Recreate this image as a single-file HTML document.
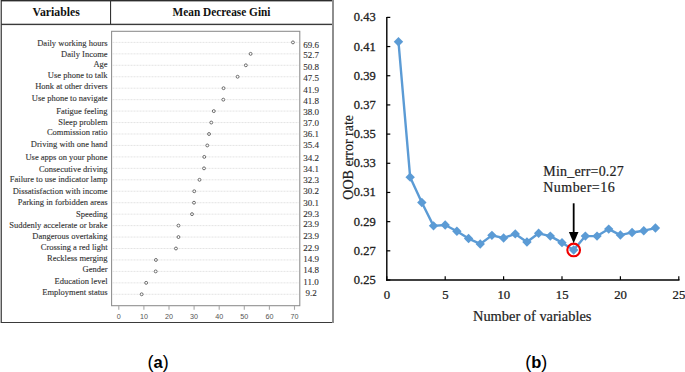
<!DOCTYPE html>
<html><head><meta charset="utf-8"><style>
html,body{margin:0;padding:0;background:#fff;width:685px;height:372px;overflow:hidden;font-family:"Liberation Serif",serif;}
svg{display:block;}
</style></head><body>
<svg width="685" height="372" viewBox="0 0 685 372">
<rect x="0" y="0" width="1" height="323" fill="#b4b4b4"/>
<rect x="1" y="0" width="1" height="323" fill="#555"/>
<rect x="1" y="0" width="332" height="1" fill="#2c2c2c"/>
<rect x="1" y="1" width="332" height="0.4" fill="#2c2c2c"/>
<rect x="1" y="23.7" width="332" height="1.4" fill="#3a3a3a"/>
<rect x="110" y="0" width="1.1" height="24" fill="#333"/>
<rect x="1" y="322" width="332" height="1" fill="#3a3a3a"/>
<rect x="332" y="0" width="2" height="323" fill="#8e8e8e"/>
<text transform="translate(56.2 15.8) scale(0.95 1)" text-anchor="middle" font-family="Liberation Serif" font-weight="bold" font-size="12.4" fill="#111">Variables</text>
<text transform="translate(221.5 15.8) scale(0.915 1)" text-anchor="middle" font-family="Liberation Serif" font-weight="bold" font-size="12.4" fill="#111">Mean Decrease Gini</text>
<rect x="111.6" y="31.3" width="188.2" height="274.4" fill="none" stroke="#8c8c8c" stroke-width="1.05"/>
<line x1="118.80" y1="306" x2="118.80" y2="309.8" stroke="#a8a8a8" stroke-width="1.1"/>
<text transform="translate(118.80 318.8) scale(0.9 1)" text-anchor="middle" font-family="Liberation Sans" font-size="8" fill="#555">0</text>
<line x1="143.90" y1="306" x2="143.90" y2="309.8" stroke="#a8a8a8" stroke-width="1.1"/>
<text transform="translate(143.90 318.8) scale(0.9 1)" text-anchor="middle" font-family="Liberation Sans" font-size="8" fill="#555">10</text>
<line x1="169.00" y1="306" x2="169.00" y2="309.8" stroke="#a8a8a8" stroke-width="1.1"/>
<text transform="translate(169.00 318.8) scale(0.9 1)" text-anchor="middle" font-family="Liberation Sans" font-size="8" fill="#555">20</text>
<line x1="194.10" y1="306" x2="194.10" y2="309.8" stroke="#a8a8a8" stroke-width="1.1"/>
<text transform="translate(194.10 318.8) scale(0.9 1)" text-anchor="middle" font-family="Liberation Sans" font-size="8" fill="#555">30</text>
<line x1="219.20" y1="306" x2="219.20" y2="309.8" stroke="#a8a8a8" stroke-width="1.1"/>
<text transform="translate(219.20 318.8) scale(0.9 1)" text-anchor="middle" font-family="Liberation Sans" font-size="8" fill="#555">40</text>
<line x1="244.30" y1="306" x2="244.30" y2="309.8" stroke="#a8a8a8" stroke-width="1.1"/>
<text transform="translate(244.30 318.8) scale(0.9 1)" text-anchor="middle" font-family="Liberation Sans" font-size="8" fill="#555">50</text>
<line x1="269.40" y1="306" x2="269.40" y2="309.8" stroke="#a8a8a8" stroke-width="1.1"/>
<text transform="translate(269.40 318.8) scale(0.9 1)" text-anchor="middle" font-family="Liberation Sans" font-size="8" fill="#555">60</text>
<line x1="294.50" y1="306" x2="294.50" y2="309.8" stroke="#a8a8a8" stroke-width="1.1"/>
<text transform="translate(294.50 318.8) scale(0.9 1)" text-anchor="middle" font-family="Liberation Sans" font-size="8" fill="#555">70</text>
<line x1="112.5" y1="42.40" x2="299" y2="42.40" stroke="#d8d8d8" stroke-width="0.7" stroke-dasharray="2 1"/>
<circle cx="292.95" cy="42.40" r="1.45" fill="#fff" stroke="#555" stroke-width="0.85"/>
<text x="107.6" y="45.75" text-anchor="end" font-family="Liberation Serif" font-size="8.5" fill="#333" stroke="#333" stroke-width="0.12">Daily working hours</text>
<text x="311" y="47.60" text-anchor="middle" font-family="Liberation Serif" font-size="9" fill="#333" stroke="#333" stroke-width="0.12">69.6</text>
<line x1="112.5" y1="53.85" x2="299" y2="53.85" stroke="#d8d8d8" stroke-width="0.7" stroke-dasharray="2 1"/>
<circle cx="250.61" cy="53.85" r="1.45" fill="#fff" stroke="#555" stroke-width="0.85"/>
<text x="107.6" y="56.50" text-anchor="end" font-family="Liberation Serif" font-size="8.5" fill="#333" stroke="#333" stroke-width="0.12">Daily Income</text>
<text x="311" y="58.40" text-anchor="middle" font-family="Liberation Serif" font-size="9" fill="#333" stroke="#333" stroke-width="0.12">52.7</text>
<line x1="112.5" y1="65.30" x2="299" y2="65.30" stroke="#d8d8d8" stroke-width="0.7" stroke-dasharray="2 1"/>
<circle cx="245.85" cy="65.30" r="1.45" fill="#fff" stroke="#555" stroke-width="0.85"/>
<text x="107.6" y="66.70" text-anchor="end" font-family="Liberation Serif" font-size="8.5" fill="#333" stroke="#333" stroke-width="0.12">Age</text>
<text x="311" y="69.70" text-anchor="middle" font-family="Liberation Serif" font-size="9" fill="#333" stroke="#333" stroke-width="0.12">50.8</text>
<line x1="112.5" y1="76.75" x2="299" y2="76.75" stroke="#d8d8d8" stroke-width="0.7" stroke-dasharray="2 1"/>
<circle cx="237.59" cy="76.75" r="1.45" fill="#fff" stroke="#555" stroke-width="0.85"/>
<text x="107.6" y="77.50" text-anchor="end" font-family="Liberation Serif" font-size="8.5" fill="#333" stroke="#333" stroke-width="0.12">Use phone to talk</text>
<text x="311" y="81.00" text-anchor="middle" font-family="Liberation Serif" font-size="9" fill="#333" stroke="#333" stroke-width="0.12">47.5</text>
<line x1="112.5" y1="88.20" x2="299" y2="88.20" stroke="#d8d8d8" stroke-width="0.7" stroke-dasharray="2 1"/>
<circle cx="223.56" cy="88.20" r="1.45" fill="#fff" stroke="#555" stroke-width="0.85"/>
<text x="107.6" y="89.30" text-anchor="end" font-family="Liberation Serif" font-size="8.5" fill="#333" stroke="#333" stroke-width="0.12">Honk at other drivers</text>
<text x="311" y="92.50" text-anchor="middle" font-family="Liberation Serif" font-size="9" fill="#333" stroke="#333" stroke-width="0.12">41.9</text>
<line x1="112.5" y1="99.65" x2="299" y2="99.65" stroke="#d8d8d8" stroke-width="0.7" stroke-dasharray="2 1"/>
<circle cx="223.31" cy="99.65" r="1.45" fill="#fff" stroke="#555" stroke-width="0.85"/>
<text x="107.6" y="101.00" text-anchor="end" font-family="Liberation Serif" font-size="8.5" fill="#333" stroke="#333" stroke-width="0.12">Use phone to navigate</text>
<text x="311" y="103.50" text-anchor="middle" font-family="Liberation Serif" font-size="9" fill="#333" stroke="#333" stroke-width="0.12">41.8</text>
<line x1="112.5" y1="111.10" x2="299" y2="111.10" stroke="#d8d8d8" stroke-width="0.7" stroke-dasharray="2 1"/>
<circle cx="213.79" cy="111.10" r="1.45" fill="#fff" stroke="#555" stroke-width="0.85"/>
<text x="107.6" y="113.80" text-anchor="end" font-family="Liberation Serif" font-size="8.5" fill="#333" stroke="#333" stroke-width="0.12">Fatigue feeling</text>
<text x="311" y="115.20" text-anchor="middle" font-family="Liberation Serif" font-size="9" fill="#333" stroke="#333" stroke-width="0.12">38.0</text>
<line x1="112.5" y1="122.55" x2="299" y2="122.55" stroke="#d8d8d8" stroke-width="0.7" stroke-dasharray="2 1"/>
<circle cx="211.28" cy="122.55" r="1.45" fill="#fff" stroke="#555" stroke-width="0.85"/>
<text x="107.6" y="124.50" text-anchor="end" font-family="Liberation Serif" font-size="8.5" fill="#333" stroke="#333" stroke-width="0.12">Sleep problem</text>
<text x="311" y="126.10" text-anchor="middle" font-family="Liberation Serif" font-size="9" fill="#333" stroke="#333" stroke-width="0.12">37.0</text>
<line x1="112.5" y1="134.00" x2="299" y2="134.00" stroke="#d8d8d8" stroke-width="0.7" stroke-dasharray="2 1"/>
<circle cx="209.03" cy="134.00" r="1.45" fill="#fff" stroke="#555" stroke-width="0.85"/>
<text x="107.6" y="135.20" text-anchor="end" font-family="Liberation Serif" font-size="8.5" fill="#333" stroke="#333" stroke-width="0.12">Commission ratio</text>
<text x="311" y="137.40" text-anchor="middle" font-family="Liberation Serif" font-size="9" fill="#333" stroke="#333" stroke-width="0.12">36.1</text>
<line x1="112.5" y1="145.45" x2="299" y2="145.45" stroke="#d8d8d8" stroke-width="0.7" stroke-dasharray="2 1"/>
<circle cx="207.28" cy="145.45" r="1.45" fill="#fff" stroke="#555" stroke-width="0.85"/>
<text x="107.6" y="147.20" text-anchor="end" font-family="Liberation Serif" font-size="8.5" fill="#333" stroke="#333" stroke-width="0.12">Driving with one hand</text>
<text x="311" y="148.20" text-anchor="middle" font-family="Liberation Serif" font-size="9" fill="#333" stroke="#333" stroke-width="0.12">35.4</text>
<line x1="112.5" y1="156.90" x2="299" y2="156.90" stroke="#d8d8d8" stroke-width="0.7" stroke-dasharray="2 1"/>
<circle cx="204.27" cy="156.90" r="1.45" fill="#fff" stroke="#555" stroke-width="0.85"/>
<text x="107.6" y="159.60" text-anchor="end" font-family="Liberation Serif" font-size="8.5" fill="#333" stroke="#333" stroke-width="0.12">Use apps on your phone</text>
<text x="311" y="160.50" text-anchor="middle" font-family="Liberation Serif" font-size="9" fill="#333" stroke="#333" stroke-width="0.12">34.2</text>
<line x1="112.5" y1="168.35" x2="299" y2="168.35" stroke="#d8d8d8" stroke-width="0.7" stroke-dasharray="2 1"/>
<circle cx="204.02" cy="168.35" r="1.45" fill="#fff" stroke="#555" stroke-width="0.85"/>
<text x="107.6" y="171.50" text-anchor="end" font-family="Liberation Serif" font-size="8.5" fill="#333" stroke="#333" stroke-width="0.12">Consecutive driving</text>
<text x="311" y="171.80" text-anchor="middle" font-family="Liberation Serif" font-size="9" fill="#333" stroke="#333" stroke-width="0.12">34.1</text>
<line x1="112.5" y1="179.80" x2="299" y2="179.80" stroke="#d8d8d8" stroke-width="0.7" stroke-dasharray="2 1"/>
<circle cx="199.51" cy="179.80" r="1.45" fill="#fff" stroke="#555" stroke-width="0.85"/>
<text x="107.6" y="182.30" text-anchor="end" font-family="Liberation Serif" font-size="8.5" fill="#333" stroke="#333" stroke-width="0.12">Failure to use indicator lamp</text>
<text x="311" y="183.10" text-anchor="middle" font-family="Liberation Serif" font-size="9" fill="#333" stroke="#333" stroke-width="0.12">32.3</text>
<line x1="112.5" y1="191.25" x2="299" y2="191.25" stroke="#d8d8d8" stroke-width="0.7" stroke-dasharray="2 1"/>
<circle cx="194.25" cy="191.25" r="1.45" fill="#fff" stroke="#555" stroke-width="0.85"/>
<text x="107.6" y="193.80" text-anchor="end" font-family="Liberation Serif" font-size="8.5" fill="#333" stroke="#333" stroke-width="0.12">Dissatisfaction with income</text>
<text x="311" y="194.00" text-anchor="middle" font-family="Liberation Serif" font-size="9" fill="#333" stroke="#333" stroke-width="0.12">30.2</text>
<line x1="112.5" y1="202.70" x2="299" y2="202.70" stroke="#d8d8d8" stroke-width="0.7" stroke-dasharray="2 1"/>
<circle cx="194.00" cy="202.70" r="1.45" fill="#fff" stroke="#555" stroke-width="0.85"/>
<text x="107.6" y="204.90" text-anchor="end" font-family="Liberation Serif" font-size="8.5" fill="#333" stroke="#333" stroke-width="0.12">Parking in forbidden areas</text>
<text x="311" y="205.60" text-anchor="middle" font-family="Liberation Serif" font-size="9" fill="#333" stroke="#333" stroke-width="0.12">30.1</text>
<line x1="112.5" y1="214.15" x2="299" y2="214.15" stroke="#d8d8d8" stroke-width="0.7" stroke-dasharray="2 1"/>
<circle cx="192.00" cy="214.15" r="1.45" fill="#fff" stroke="#555" stroke-width="0.85"/>
<text x="107.6" y="216.60" text-anchor="end" font-family="Liberation Serif" font-size="8.5" fill="#333" stroke="#333" stroke-width="0.12">Speeding</text>
<text x="311" y="216.50" text-anchor="middle" font-family="Liberation Serif" font-size="9" fill="#333" stroke="#333" stroke-width="0.12">29.3</text>
<line x1="112.5" y1="225.60" x2="299" y2="225.60" stroke="#d8d8d8" stroke-width="0.7" stroke-dasharray="2 1"/>
<circle cx="178.47" cy="225.60" r="1.45" fill="#fff" stroke="#555" stroke-width="0.85"/>
<text x="107.6" y="227.70" text-anchor="end" font-family="Liberation Serif" font-size="8.5" fill="#333" stroke="#333" stroke-width="0.12">Suddenly accelerate or brake</text>
<text x="311" y="227.30" text-anchor="middle" font-family="Liberation Serif" font-size="9" fill="#333" stroke="#333" stroke-width="0.12">23.9</text>
<line x1="112.5" y1="237.05" x2="299" y2="237.05" stroke="#d8d8d8" stroke-width="0.7" stroke-dasharray="2 1"/>
<circle cx="178.47" cy="237.05" r="1.45" fill="#fff" stroke="#555" stroke-width="0.85"/>
<text x="107.6" y="238.80" text-anchor="end" font-family="Liberation Serif" font-size="8.5" fill="#333" stroke="#333" stroke-width="0.12">Dangerous overtaking</text>
<text x="311" y="238.60" text-anchor="middle" font-family="Liberation Serif" font-size="9" fill="#333" stroke="#333" stroke-width="0.12">23.9</text>
<line x1="112.5" y1="248.50" x2="299" y2="248.50" stroke="#d8d8d8" stroke-width="0.7" stroke-dasharray="2 1"/>
<circle cx="175.96" cy="248.50" r="1.45" fill="#fff" stroke="#555" stroke-width="0.85"/>
<text x="107.6" y="250.20" text-anchor="end" font-family="Liberation Serif" font-size="8.5" fill="#333" stroke="#333" stroke-width="0.12">Crossing a red light</text>
<text x="311" y="250.70" text-anchor="middle" font-family="Liberation Serif" font-size="9" fill="#333" stroke="#333" stroke-width="0.12">22.9</text>
<line x1="112.5" y1="259.95" x2="299" y2="259.95" stroke="#d8d8d8" stroke-width="0.7" stroke-dasharray="2 1"/>
<circle cx="155.92" cy="259.95" r="1.45" fill="#fff" stroke="#555" stroke-width="0.85"/>
<text x="107.6" y="261.20" text-anchor="end" font-family="Liberation Serif" font-size="8.5" fill="#333" stroke="#333" stroke-width="0.12">Reckless merging</text>
<text x="311" y="262.00" text-anchor="middle" font-family="Liberation Serif" font-size="9" fill="#333" stroke="#333" stroke-width="0.12">14.9</text>
<line x1="112.5" y1="271.40" x2="299" y2="271.40" stroke="#d8d8d8" stroke-width="0.7" stroke-dasharray="2 1"/>
<circle cx="155.67" cy="271.40" r="1.45" fill="#fff" stroke="#555" stroke-width="0.85"/>
<text x="107.6" y="272.30" text-anchor="end" font-family="Liberation Serif" font-size="8.5" fill="#333" stroke="#333" stroke-width="0.12">Gender</text>
<text x="311" y="273.30" text-anchor="middle" font-family="Liberation Serif" font-size="9" fill="#333" stroke="#333" stroke-width="0.12">14.8</text>
<line x1="112.5" y1="282.85" x2="299" y2="282.85" stroke="#d8d8d8" stroke-width="0.7" stroke-dasharray="2 1"/>
<circle cx="146.16" cy="282.85" r="1.45" fill="#fff" stroke="#555" stroke-width="0.85"/>
<text x="107.6" y="284.40" text-anchor="end" font-family="Liberation Serif" font-size="8.5" fill="#333" stroke="#333" stroke-width="0.12">Education level</text>
<text x="311" y="284.50" text-anchor="middle" font-family="Liberation Serif" font-size="9" fill="#333" stroke="#333" stroke-width="0.12">11.0</text>
<line x1="112.5" y1="294.30" x2="299" y2="294.30" stroke="#d8d8d8" stroke-width="0.7" stroke-dasharray="2 1"/>
<circle cx="141.65" cy="294.30" r="1.45" fill="#fff" stroke="#555" stroke-width="0.85"/>
<text x="107.6" y="295.20" text-anchor="end" font-family="Liberation Serif" font-size="8.5" fill="#333" stroke="#333" stroke-width="0.12">Employment status</text>
<text x="311" y="295.80" text-anchor="middle" font-family="Liberation Serif" font-size="9" fill="#333" stroke="#333" stroke-width="0.12">9.2</text>
<line x1="386.8" y1="17" x2="386.8" y2="280.7" stroke="#000" stroke-width="1.4"/>
<line x1="386.1" y1="280.0" x2="679.5" y2="280.0" stroke="#000" stroke-width="1.4"/>
<line x1="386.8" y1="280.00" x2="390.3" y2="280.00" stroke="#000" stroke-width="1.2"/>
<text x="375.7" y="284.00" text-anchor="end" font-family="Liberation Serif" font-size="12.5" fill="#222" stroke="#222" stroke-width="0.3">0.25</text>
<line x1="386.8" y1="250.82" x2="390.3" y2="250.82" stroke="#000" stroke-width="1.2"/>
<text x="375.7" y="254.82" text-anchor="end" font-family="Liberation Serif" font-size="12.5" fill="#222" stroke="#222" stroke-width="0.3">0.27</text>
<line x1="386.8" y1="221.64" x2="390.3" y2="221.64" stroke="#000" stroke-width="1.2"/>
<text x="375.7" y="225.64" text-anchor="end" font-family="Liberation Serif" font-size="12.5" fill="#222" stroke="#222" stroke-width="0.3">0.29</text>
<line x1="386.8" y1="192.46" x2="390.3" y2="192.46" stroke="#000" stroke-width="1.2"/>
<text x="375.7" y="196.46" text-anchor="end" font-family="Liberation Serif" font-size="12.5" fill="#222" stroke="#222" stroke-width="0.3">0.31</text>
<line x1="386.8" y1="163.28" x2="390.3" y2="163.28" stroke="#000" stroke-width="1.2"/>
<text x="375.7" y="167.28" text-anchor="end" font-family="Liberation Serif" font-size="12.5" fill="#222" stroke="#222" stroke-width="0.3">0.33</text>
<line x1="386.8" y1="134.10" x2="390.3" y2="134.10" stroke="#000" stroke-width="1.2"/>
<text x="375.7" y="138.10" text-anchor="end" font-family="Liberation Serif" font-size="12.5" fill="#222" stroke="#222" stroke-width="0.3">0.35</text>
<line x1="386.8" y1="104.92" x2="390.3" y2="104.92" stroke="#000" stroke-width="1.2"/>
<text x="375.7" y="108.92" text-anchor="end" font-family="Liberation Serif" font-size="12.5" fill="#222" stroke="#222" stroke-width="0.3">0.37</text>
<line x1="386.8" y1="75.74" x2="390.3" y2="75.74" stroke="#000" stroke-width="1.2"/>
<text x="375.7" y="79.74" text-anchor="end" font-family="Liberation Serif" font-size="12.5" fill="#222" stroke="#222" stroke-width="0.3">0.39</text>
<line x1="386.8" y1="46.56" x2="390.3" y2="46.56" stroke="#000" stroke-width="1.2"/>
<text x="375.7" y="50.56" text-anchor="end" font-family="Liberation Serif" font-size="12.5" fill="#222" stroke="#222" stroke-width="0.3">0.41</text>
<line x1="386.8" y1="17.38" x2="390.3" y2="17.38" stroke="#000" stroke-width="1.2"/>
<text x="375.7" y="21.38" text-anchor="end" font-family="Liberation Serif" font-size="12.5" fill="#222" stroke="#222" stroke-width="0.3">0.43</text>
<line x1="386.80" y1="276.3" x2="386.80" y2="280.0" stroke="#000" stroke-width="1.2"/>
<text transform="translate(387.00 299) scale(1.1 1)" text-anchor="middle" font-family="Liberation Serif" font-size="11.6" fill="#222" stroke="#222" stroke-width="0.25">0</text>
<line x1="445.20" y1="276.3" x2="445.20" y2="280.0" stroke="#000" stroke-width="1.2"/>
<text transform="translate(445.40 299) scale(1.1 1)" text-anchor="middle" font-family="Liberation Serif" font-size="11.6" fill="#222" stroke="#222" stroke-width="0.25">5</text>
<line x1="503.60" y1="276.3" x2="503.60" y2="280.0" stroke="#000" stroke-width="1.2"/>
<text transform="translate(503.80 299) scale(1.1 1)" text-anchor="middle" font-family="Liberation Serif" font-size="11.6" fill="#222" stroke="#222" stroke-width="0.25">10</text>
<line x1="562.00" y1="276.3" x2="562.00" y2="280.0" stroke="#000" stroke-width="1.2"/>
<text transform="translate(562.20 299) scale(1.1 1)" text-anchor="middle" font-family="Liberation Serif" font-size="11.6" fill="#222" stroke="#222" stroke-width="0.25">15</text>
<line x1="620.40" y1="276.3" x2="620.40" y2="280.0" stroke="#000" stroke-width="1.2"/>
<text transform="translate(620.60 299) scale(1.1 1)" text-anchor="middle" font-family="Liberation Serif" font-size="11.6" fill="#222" stroke="#222" stroke-width="0.25">20</text>
<line x1="678.80" y1="276.3" x2="678.80" y2="280.0" stroke="#000" stroke-width="1.2"/>
<text transform="translate(679.00 299) scale(1.1 1)" text-anchor="middle" font-family="Liberation Serif" font-size="11.6" fill="#222" stroke="#222" stroke-width="0.25">25</text>
<text transform="translate(532.2 321.4) scale(1.06 1)" text-anchor="middle" font-family="Liberation Serif" font-size="13.6" fill="#222" stroke="#222" stroke-width="0.2">Number of variables</text>
<text transform="translate(353 157.3) rotate(-90)" text-anchor="middle" font-family="Liberation Serif" font-size="14" fill="#222" stroke="#222" stroke-width="0.2">OOB error rate</text>
<polyline fill="none" stroke="#5b9bd5" stroke-width="2.4" stroke-linejoin="round" points="398.48,41.75 410.16,177.14 421.84,202.53 433.52,225.87 445.20,225.00 456.88,231.27 468.56,238.56 480.24,243.96 491.92,235.35 503.60,237.98 515.28,233.90 526.96,242.07 538.64,233.31 550.32,236.08 562.00,242.65 573.68,249.94 585.36,236.08 597.04,236.08 608.72,229.08 620.40,235.06 632.08,232.44 643.76,230.69 655.44,228.06"/>
<path d="M398.48 37.05 L403.18 41.75 L398.48 46.45 L393.78 41.75 Z" fill="#5b9bd5"/>
<path d="M410.16 172.44 L414.86 177.14 L410.16 181.84 L405.46 177.14 Z" fill="#5b9bd5"/>
<path d="M421.84 197.83 L426.54 202.53 L421.84 207.23 L417.14 202.53 Z" fill="#5b9bd5"/>
<path d="M433.52 221.17 L438.22 225.87 L433.52 230.57 L428.82 225.87 Z" fill="#5b9bd5"/>
<path d="M445.20 220.30 L449.90 225.00 L445.20 229.70 L440.50 225.00 Z" fill="#5b9bd5"/>
<path d="M456.88 226.57 L461.58 231.27 L456.88 235.97 L452.18 231.27 Z" fill="#5b9bd5"/>
<path d="M468.56 233.86 L473.26 238.56 L468.56 243.26 L463.86 238.56 Z" fill="#5b9bd5"/>
<path d="M480.24 239.26 L484.94 243.96 L480.24 248.66 L475.54 243.96 Z" fill="#5b9bd5"/>
<path d="M491.92 230.65 L496.62 235.35 L491.92 240.05 L487.22 235.35 Z" fill="#5b9bd5"/>
<path d="M503.60 233.28 L508.30 237.98 L503.60 242.68 L498.90 237.98 Z" fill="#5b9bd5"/>
<path d="M515.28 229.20 L519.98 233.90 L515.28 238.60 L510.58 233.90 Z" fill="#5b9bd5"/>
<path d="M526.96 237.37 L531.66 242.07 L526.96 246.77 L522.26 242.07 Z" fill="#5b9bd5"/>
<path d="M538.64 228.61 L543.34 233.31 L538.64 238.01 L533.94 233.31 Z" fill="#5b9bd5"/>
<path d="M550.32 231.38 L555.02 236.08 L550.32 240.78 L545.62 236.08 Z" fill="#5b9bd5"/>
<path d="M562.00 237.95 L566.70 242.65 L562.00 247.35 L557.30 242.65 Z" fill="#5b9bd5"/>
<path d="M573.68 245.24 L578.38 249.94 L573.68 254.64 L568.98 249.94 Z" fill="#5b9bd5"/>
<path d="M585.36 231.38 L590.06 236.08 L585.36 240.78 L580.66 236.08 Z" fill="#5b9bd5"/>
<path d="M597.04 231.38 L601.74 236.08 L597.04 240.78 L592.34 236.08 Z" fill="#5b9bd5"/>
<path d="M608.72 224.38 L613.42 229.08 L608.72 233.78 L604.02 229.08 Z" fill="#5b9bd5"/>
<path d="M620.40 230.36 L625.10 235.06 L620.40 239.76 L615.70 235.06 Z" fill="#5b9bd5"/>
<path d="M632.08 227.74 L636.78 232.44 L632.08 237.14 L627.38 232.44 Z" fill="#5b9bd5"/>
<path d="M643.76 225.99 L648.46 230.69 L643.76 235.39 L639.06 230.69 Z" fill="#5b9bd5"/>
<path d="M655.44 223.36 L660.14 228.06 L655.44 232.76 L650.74 228.06 Z" fill="#5b9bd5"/>
<circle cx="573.68" cy="249.94" r="6.35" fill="none" stroke="#f00000" stroke-width="2.1"/>
<line x1="573.68" y1="203.3" x2="573.68" y2="234" stroke="#000" stroke-width="1.8"/>
<path d="M568.88 232.1 L578.48 232.1 L573.68 243.2 Z" fill="#000"/>
<text x="543.3" y="175.8" font-family="Liberation Serif" font-size="14" letter-spacing="0.2" fill="#222" stroke="#222" stroke-width="0.2">Min_err=0.27</text>
<text x="543.3" y="191.5" font-family="Liberation Serif" font-size="14" letter-spacing="0.45" fill="#222" stroke="#222" stroke-width="0.2">Number=16</text>
<text x="158.2" y="368" text-anchor="middle" font-family="Liberation Sans" font-size="16.5" fill="#000"><tspan font-size="18">(</tspan><tspan font-weight="bold">a</tspan><tspan font-size="18">)</tspan></text>
<text x="536.3" y="368" text-anchor="middle" font-family="Liberation Sans" font-size="16.5" fill="#000"><tspan font-size="18">(</tspan><tspan font-weight="bold">b</tspan><tspan font-size="18">)</tspan></text>
</svg>
</body></html>
